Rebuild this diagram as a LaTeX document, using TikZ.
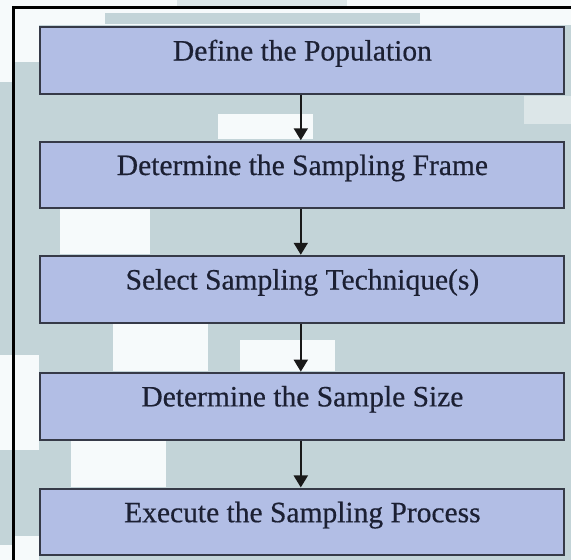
\documentclass[tikz,border=0pt]{standalone}
\usepackage{fontspec}
\setmainfont{Liberation Serif}
\newfontfamily\stepfont[FakeBold=0.5]{Liberation Serif}
\usetikzlibrary{arrows.meta}
\definecolor{boxfill}{RGB}{178,190,229}
\definecolor{boxline}{RGB}{54,58,72}
\definecolor{bgblue}{RGB}{195,212,216}
\definecolor{bglight}{RGB}{246,250,251}
\definecolor{bgmid}{RGB}{220,230,232}
\definecolor{textcol}{RGB}{28,32,51}
\tikzset{
  stepbox/.style={draw=boxline, line width=2pt, fill=boxfill,
    minimum width=524pt, minimum height=66.5pt, inner sep=0pt,
    text height=10pt, text depth=10pt, text=textcol,
    font=\stepfont\fontsize{29.5}{34}\selectfont},
  flow/.style={draw=black!90, line width=2pt,
    -{Triangle[width=14pt,length=12pt]}, shorten >=0.5pt},
}
\begin{document}
\begin{tikzpicture}[x=1pt,y=-1pt]
\useasboundingbox (0,0) rectangle (571,560);
% backdrop
\fill[bglight] (0,0) rectangle (571,560);
\fill[bgmid] (177,0) rectangle (347,6);
\fill[bgblue] (105,13) rectangle (420,24);
\fill[bgblue] (0,82) rectangle (12,355);
\fill[bgblue] (0,450) rectangle (12,545);
\fill[bgblue] (12,62) rectangle (39,355);
\fill[bgblue] (12,450) rectangle (39,536);
\fill[bgblue] (39,25) rectangle (571,560);
\fill[bgblue] (39,556) rectangle (100,560);
\fill[bglight] (218,114) rectangle (313,139);
\fill[bgmid] (524,96) rectangle (571,124);
\fill[bglight] (60,208) rectangle (150,254);
\fill[bglight] (113,324) rectangle (208,371);
\fill[bglight] (240,340) rectangle (335,371);
\fill[bglight] (71,441) rectangle (166,487);
% outer frame
\draw[line width=2.6pt] (13.5,560) -- (13.5,7.6) -- (571,7.6);
% steps
\node[stepbox] (s1) at (302.4,60.5)  {Define the Population};
\node[stepbox] (s2) at (302.4,175)   {Determine the Sampling Frame};
\node[stepbox] (s3) at (302.4,289.5) {Select Sampling Technique(s)};
\node[stepbox] (s4) at (302.4,406.4) {Determine the Sample Size};
\node[stepbox] (s5) at (302.4,522.2) {Execute the Sampling Process};
% connectors
\foreach \a/\b in {s1/s2,s2/s3,s3/s4,s4/s5}
  \draw[flow] ([xshift=-1.6pt]\a.south) -- ([xshift=-1.6pt]\b.north);
\end{tikzpicture}
\end{document}
